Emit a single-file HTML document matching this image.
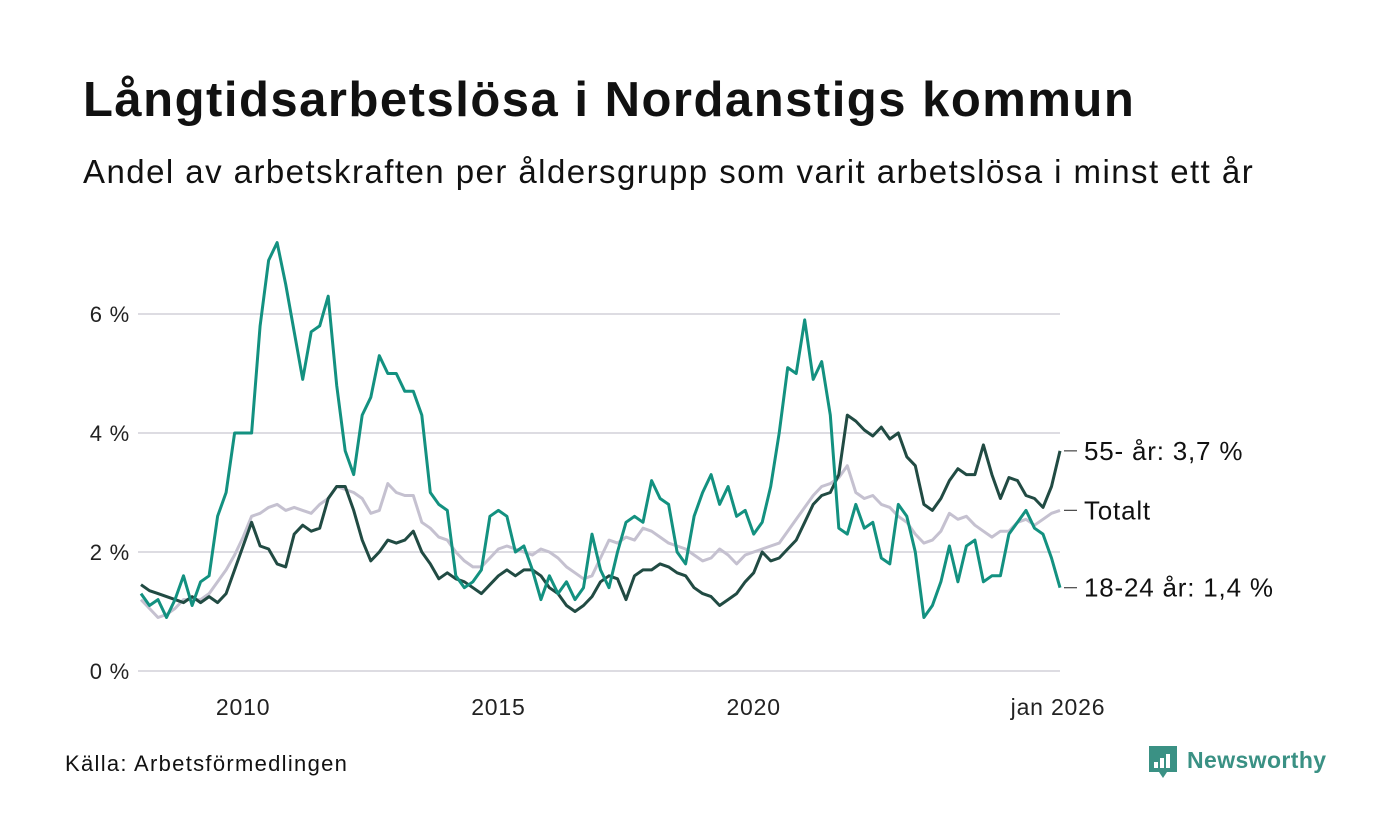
<!DOCTYPE html>
<html><head><meta charset="utf-8">
<style>
body{margin:0;background:#fff;width:1400px;height:840px;overflow:hidden;font-family:"Liberation Sans",sans-serif;}
#title{position:absolute;left:83px;top:72px;font-size:49px;font-weight:bold;color:#111;margin:0;letter-spacing:1.5px;white-space:nowrap}
#subtitle{position:absolute;left:83px;top:153px;font-size:33px;color:#111;margin:0;letter-spacing:1.45px;white-space:nowrap}
svg{position:absolute;left:0;top:0}
svg text{letter-spacing:0.8px}
</style></head><body>
<h1 id="title">Långtidsarbetslösa i Nordanstigs kommun</h1>
<p id="subtitle">Andel av arbetskraften per åldersgrupp som varit arbetslösa i minst ett år</p>
<svg id="chart" width="1400" height="840"></svg>
<script>
const startYear = 2008;
const stepMonths = 2;
const yTicks = [0, 2, 4, 6];
const yTickLabels = ["0 %", "2 %", "4 %", "6 %"];
const xTicks = [2010, 2015, 2020, 2026];
const xTickLabels = ["2010", "2015", "2020", "jan 2026"];
const youth = [
1.3,1.1,1.2,0.9,1.2,1.6,
1.1,1.5,1.6,2.6,3.0,4.0,
4.0,4.0,5.8,6.9,7.2,6.5,
5.7,4.9,5.7,5.8,6.3,4.8,
3.7,3.3,4.3,4.6,5.3,5.0,
5.0,4.7,4.7,4.3,3.0,2.8,
2.7,1.6,1.4,1.5,1.7,2.6,
2.7,2.6,2.0,2.1,1.7,1.2,
1.6,1.3,1.5,1.2,1.4,2.3,
1.7,1.4,2.0,2.5,2.6,2.5,
3.2,2.9,2.8,2.0,1.8,2.6,
3.0,3.3,2.8,3.1,2.6,2.7,
2.3,2.5,3.1,4.0,5.1,5.0,
5.9,4.9,5.2,4.3,2.4,2.3,
2.8,2.4,2.5,1.9,1.8,2.8,
2.6,2.0,0.9,1.1,1.5,2.1,
1.5,2.1,2.2,1.5,1.6,1.6,
2.3,2.5,2.7,2.4,2.3,1.9,
1.4];
const senior = [
1.45,1.35,1.3,1.25,1.2,1.15,
1.25,1.15,1.25,1.15,1.3,1.7,
2.1,2.5,2.1,2.05,1.8,1.75,
2.3,2.45,2.35,2.4,2.9,3.1,
3.1,2.7,2.2,1.85,2.0,2.2,
2.15,2.2,2.35,2.0,1.8,1.55,
1.65,1.55,1.5,1.4,1.3,1.45,
1.6,1.7,1.6,1.7,1.7,1.6,
1.4,1.3,1.1,1.0,1.1,1.25,
1.5,1.6,1.55,1.2,1.6,1.7,
1.7,1.8,1.75,1.65,1.6,1.4,
1.3,1.25,1.1,1.2,1.3,1.5,
1.65,2.0,1.85,1.9,2.05,2.2,
2.5,2.8,2.95,3.0,3.3,4.3,
4.2,4.05,3.95,4.1,3.9,4.0,
3.6,3.45,2.8,2.7,2.9,3.2,
3.4,3.3,3.3,3.8,3.3,2.9,
3.25,3.2,2.95,2.9,2.75,3.1,
3.7];
const total = [
1.2,1.05,0.9,0.95,1.05,1.2,
1.2,1.2,1.3,1.5,1.7,1.95,
2.25,2.6,2.65,2.75,2.8,2.7,
2.75,2.7,2.65,2.8,2.9,3.1,
3.05,3.0,2.9,2.65,2.7,3.15,
3.0,2.95,2.95,2.5,2.4,2.25,
2.2,2.0,1.85,1.75,1.75,1.9,
2.05,2.1,2.05,2.0,1.95,2.05,
2.0,1.9,1.75,1.65,1.55,1.6,
1.9,2.2,2.15,2.25,2.2,2.4,
2.35,2.25,2.15,2.1,2.05,1.95,
1.85,1.9,2.05,1.95,1.8,1.95,
2.0,2.05,2.1,2.15,2.35,2.55,
2.75,2.95,3.1,3.15,3.25,3.45,
3.0,2.9,2.95,2.8,2.75,2.6,
2.5,2.3,2.15,2.2,2.35,2.65,
2.55,2.6,2.45,2.35,2.25,2.35,
2.35,2.5,2.55,2.45,2.55,2.65,
2.7];

const NS = "http://www.w3.org/2000/svg";
const svg = document.getElementById("chart");
const x0 = 141, x1 = 1060, t0 = 2008, t1 = 2026;
function xScale(t){ return x0 + (t - t0) / (t1 - t0) * (x1 - x0); }
function yScale(v){ return 671 - v * 59.5; }
function tAt(i){ return startYear + i * stepMonths / 12; }
function mk(tag, attrs){ const e = document.createElementNS(NS, tag); for (const k in attrs) e.setAttribute(k, attrs[k]); svg.appendChild(e); return e; }

yTicks.forEach((v, i) => {
  const g = mk("line", {x1: 138, x2: 1060, y1: yScale(v), y2: yScale(v), stroke: "#dddce2", "stroke-width": 2});
  
  
  const t = mk("text", {x: 130, y: yScale(v) + 8, "text-anchor": "end", "font-size": 22, fill: "#222", "font-family": "Liberation Sans, sans-serif"});
  t.textContent = yTickLabels[i];
  
  
});
xTicks.forEach((v, i) => {
  const t = mk("text", {x: i === 3 ? 1058 : xScale(v), y: 715, "text-anchor": "middle", "font-size": 23, fill: "#222", "font-family": "Liberation Sans, sans-serif"});
  t.textContent = xTickLabels[i];
  
  
});

function drawSeries(vals, color, name){
  const d = vals.map((v, i) => (i ? "L" : "M") + xScale(tAt(i)).toFixed(1) + "," + yScale(v).toFixed(1)).join("");
  const p = mk("path", {d: d, fill: "none", stroke: color, "stroke-width": 3, "stroke-linejoin": "round"});
  
  
}
drawSeries(total, "#c5c1d0", "series-totalt");
drawSeries(senior, "#214b43", "series-55-ar");
drawSeries(youth, "#139180", "series-18-24-ar");

function endLabel(val, text, name){
  const y = yScale(val);
  const l = mk("path", {d: `M1064,${y}L1077,${y}`, fill: "none", stroke: "#444", "stroke-width": 1.2});
  
  
  const t = mk("text", {x: 1084, y: y + 9, "font-size": 26, fill: "#111", "font-family": "Liberation Sans, sans-serif"});
  t.textContent = text;
  
  
}
endLabel(senior[senior.length - 1], "55- år: 3,7 %", "label-55-ar");
endLabel(total[total.length - 1], "Totalt", "label-totalt");
endLabel(youth[youth.length - 1], "18-24 år: 1,4 %", "label-18-24-ar");

const src = mk("text", {x: 65, y: 771, "font-size": 22, fill: "#111", "font-family": "Liberation Sans, sans-serif", "style": "letter-spacing:1.3px"});
src.textContent = "Källa: Arbetsförmedlingen";



const logo = mk("g", {});


const box = document.createElementNS(NS, "path");
box.setAttribute("d", "M1149,746h28v26h-10l-4,6l-4,-6h-10z");
box.setAttribute("fill", "#3a9184");
logo.appendChild(box);
[[1154,762,4,6],[1160,758,4,10],[1166,754,4,14]].forEach(r => {
  const b = document.createElementNS(NS, "rect");
  b.setAttribute("x", r[0]); b.setAttribute("y", r[1]); b.setAttribute("width", r[2]); b.setAttribute("height", r[3]); b.setAttribute("fill", "#fff");
  logo.appendChild(b);
});
const lt = document.createElementNS(NS, "text");
lt.setAttribute("x", 1187); lt.setAttribute("y", 768); lt.setAttribute("font-size", 23); lt.setAttribute("font-weight", "bold");
lt.setAttribute("fill", "#3a9184"); lt.setAttribute("font-family", "Liberation Sans, sans-serif");
lt.setAttribute("style", "letter-spacing:0.4px");
lt.textContent = "Newsworthy";
logo.appendChild(lt);
</script>
</body></html>
